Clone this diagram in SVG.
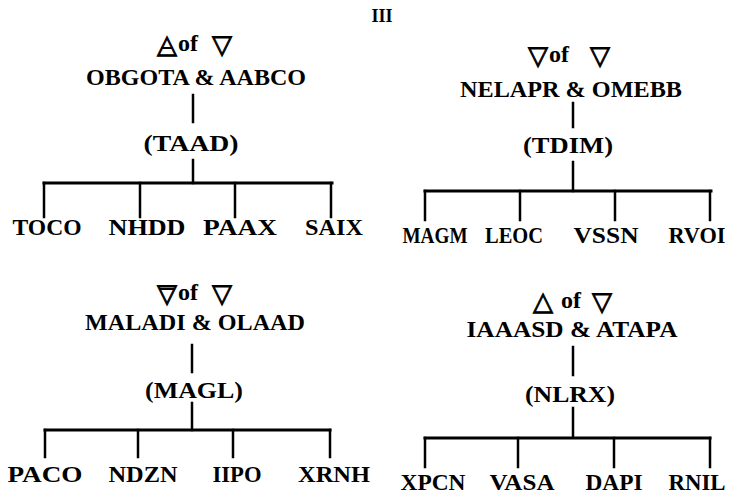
<svg xmlns="http://www.w3.org/2000/svg" width="750" height="495" viewBox="0 0 750 495">
<style>
text{font-family:"Liberation Serif","Times New Roman",serif;font-weight:bold;fill:#000;text-anchor:middle}
.t{font-size:24px}
.of{font-size:24px;text-anchor:start}
.sym{font-family:"DejaVu Sans",sans-serif;font-weight:bold;font-size:26px;stroke:#000;stroke-width:0.9}
.c line{stroke:#000;stroke-width:2.5;stroke-linecap:square}
.c .bar{stroke-width:3}
.tb{stroke:#000;stroke-width:2}
</style>
<rect width="750" height="495" fill="#fff"/>
<text x="382" y="22" style="font-size:18px">III</text>

<g id="tree1">
<text class="sym" x="167" y="53">△</text>
<line class="tb" x1="161" y1="48" x2="173" y2="48"/>
<text class="of" x="178" y="51">of</text>
<text class="sym" x="222" y="53">▽</text>
<text class="t" x="196" y="85" textLength="220" lengthAdjust="spacingAndGlyphs">OBGOTA &amp; AABCO</text>
<text class="t" x="191" y="151" textLength="95" lengthAdjust="spacingAndGlyphs">(TAAD)</text>
<text class="t" x="47" y="235" textLength="69" lengthAdjust="spacingAndGlyphs">TOCO</text>
<text class="t" x="147" y="235" textLength="77" lengthAdjust="spacingAndGlyphs">NHDD</text>
<text class="t" x="240" y="235" textLength="74" lengthAdjust="spacingAndGlyphs">PAAX</text>
<text class="t" x="334" y="235" textLength="58" lengthAdjust="spacingAndGlyphs">SAIX</text>
</g>

<g id="tree2">
<text class="sym" x="538" y="64">▽</text>
<text class="of" x="549" y="62">of</text>
<text class="sym" x="600" y="64">▽</text>
<text class="t" x="571" y="97" textLength="222" lengthAdjust="spacingAndGlyphs">NELAPR &amp; OMEBB</text>
<text class="t" x="568" y="153" textLength="90" lengthAdjust="spacingAndGlyphs">(TDIM)</text>
<text class="t" x="435" y="243" textLength="65" lengthAdjust="spacingAndGlyphs">MAGM</text>
<text class="t" x="514" y="243" textLength="58" lengthAdjust="spacingAndGlyphs">LEOC</text>
<text class="t" x="606" y="243" textLength="65" lengthAdjust="spacingAndGlyphs">VSSN</text>
<text class="t" x="697" y="243" textLength="57" lengthAdjust="spacingAndGlyphs">RVOI</text>
</g>

<g id="tree3">
<text class="sym" x="167" y="302">▽</text>
<line class="tb" x1="160" y1="289" x2="174" y2="289"/>
<text class="of" x="178" y="300">of</text>
<text class="sym" x="222" y="302">▽</text>
<text class="t" x="195" y="330" textLength="220" lengthAdjust="spacingAndGlyphs">MALADI &amp; OLAAD</text>
<text class="t" x="194" y="398" textLength="98" lengthAdjust="spacingAndGlyphs">(MAGL)</text>
<text class="t" x="45" y="482" textLength="75" lengthAdjust="spacingAndGlyphs">PACO</text>
<text class="t" x="143" y="482" textLength="69" lengthAdjust="spacingAndGlyphs">NDZN</text>
<text class="t" x="237" y="482" textLength="49" lengthAdjust="spacingAndGlyphs">IIPO</text>
<text class="t" x="334" y="482" textLength="72" lengthAdjust="spacingAndGlyphs">XRNH</text>
</g>

<g id="tree4">
<text class="sym" x="543" y="310">△</text>
<text class="of" x="561" y="308">of</text>
<text class="sym" x="602" y="310">▽</text>
<text class="t" x="572" y="337" textLength="211" lengthAdjust="spacingAndGlyphs">IAAASD &amp; ATAPA</text>
<text class="t" x="570" y="402" textLength="90" lengthAdjust="spacingAndGlyphs">(NLRX)</text>
<text class="t" x="433" y="490" textLength="65" lengthAdjust="spacingAndGlyphs">XPCN</text>
<text class="t" x="522" y="490" textLength="65" lengthAdjust="spacingAndGlyphs">VASA</text>
<text class="t" x="614" y="490" textLength="57" lengthAdjust="spacingAndGlyphs">DAPI</text>
<text class="t" x="697" y="490" textLength="57" lengthAdjust="spacingAndGlyphs">RNIL</text>
</g>

<g id="connectors" class="c">
<line x1="193" y1="95" x2="193" y2="122"/>
<line x1="193" y1="160" x2="193" y2="183"/>
<line class="bar" x1="44" y1="183" x2="332" y2="183"/>
<line x1="44" y1="183" x2="44" y2="217"/>
<line x1="140" y1="183" x2="140" y2="217"/>
<line x1="235" y1="183" x2="235" y2="217"/>
<line x1="331" y1="183" x2="331" y2="217"/>

<line x1="573" y1="103" x2="573" y2="127"/>
<line x1="573" y1="162" x2="573" y2="191"/>
<line class="bar" x1="425" y1="191" x2="711" y2="191"/>
<line x1="425" y1="191" x2="425" y2="220"/>
<line x1="520" y1="191" x2="520" y2="220"/>
<line x1="615" y1="191" x2="615" y2="220"/>
<line x1="710" y1="191" x2="710" y2="220"/>

<line x1="192" y1="345" x2="192" y2="372"/>
<line x1="192" y1="403" x2="192" y2="430"/>
<line class="bar" x1="45" y1="430" x2="330" y2="430"/>
<line x1="45" y1="430" x2="45" y2="457"/>
<line x1="138" y1="430" x2="138" y2="457"/>
<line x1="233" y1="430" x2="233" y2="457"/>
<line x1="330" y1="430" x2="330" y2="457"/>

<line x1="573" y1="347" x2="573" y2="375"/>
<line x1="573" y1="408" x2="573" y2="437"/>
<line class="bar" x1="425" y1="438" x2="710" y2="438"/>
<line x1="425" y1="438" x2="425" y2="467"/>
<line x1="518" y1="438" x2="518" y2="467"/>
<line x1="614" y1="438" x2="614" y2="467"/>
<line x1="710" y1="438" x2="710" y2="467"/>
</g>
</svg>
